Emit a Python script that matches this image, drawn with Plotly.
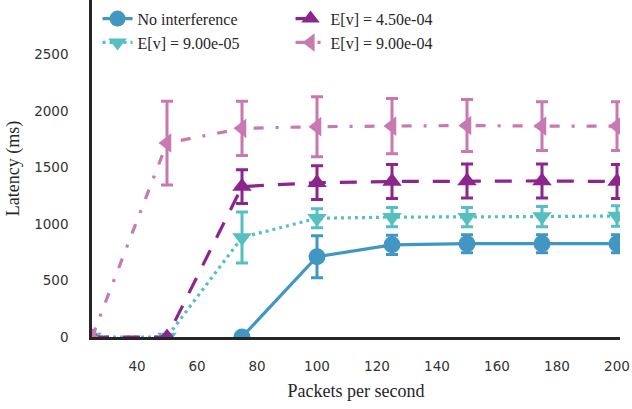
import plotly.graph_objects as go

# Data
x_none = [75, 100, 125, 150, 175, 200]
y_none = [0, 710, 815, 825, 825, 825]
e_none = [0, 185, 85, 80, 80, 80]

x_lo = [25, 50, 75, 100, 125, 150, 175, 200]
y_lo = [0, 0, 880, 1050, 1060, 1060, 1065, 1070]
e_lo = [0, 0, 225, 85, 85, 85, 90, 90]

x_mid = [25, 50, 75, 100, 125, 150, 175, 200]
y_mid = [0, 0, 1330, 1365, 1375, 1380, 1380, 1375]
e_mid = [0, 0, 150, 150, 150, 150, 150, 150]

x_hi = [25, 50, 75, 100, 125, 150, 175, 200]
y_hi = [0, 1715, 1845, 1860, 1865, 1870, 1865, 1865]
e_hi = [0, 370, 240, 265, 245, 230, 215, 215]

names = ["No interference", "E[v] = 9.00e-05", "E[v] = 4.50e-04", "E[v] = 9.00e-04"]
colors = ["#4197c1", "#55bfc1", "#8c268d", "#c879b2"]
dashes = ["solid", "3px,4px", "17px,14px", "10px,12px,3px,12px"]
symbols = ["circle", "triangle-down", "triangle-up", "triangle-left"]
sizes = [17, 17, 17, 17]
ranks = [1, 3, 2, 4]

series = [(x_none, y_none, e_none), (x_lo, y_lo, e_lo), (x_mid, y_mid, e_mid), (x_hi, y_hi, e_hi)]

fig = go.Figure()
for i, (xs, ys, es) in enumerate(series):
    fig.add_trace(go.Scatter(
        x=xs, y=ys, name=names[i], mode="lines+markers",
        line=dict(color=colors[i], width=3.2, dash=dashes[i]),
        marker=dict(symbol=symbols[i], size=sizes[i], color=colors[i]),
        error_y=dict(type="data", array=es, visible=True, color=colors[i], thickness=3, width=6),
        legendrank=ranks[i],
    ))

serif = "Liberation Serif"
fig.update_layout(
    width=632, height=409,
    margin=dict(l=92, r=12, t=0, b=72),
    plot_bgcolor="white", paper_bgcolor="white",
    showlegend=True,
    legend=dict(orientation="h", x=0.0105, y=0.995, xanchor="left", yanchor="top",
                font=dict(family=serif, size=16, color="#262626"),
                entrywidth=148, entrywidthmode="pixels",
                bgcolor="rgba(255,255,255,0)", tracegroupgap=0),
    xaxis=dict(range=[25, 201], tickvals=[40, 60, 80, 100, 120, 140, 160, 180, 200],
               showgrid=False, zeroline=False, showline=True, linecolor="#262626", linewidth=2.5,
               ticks="", ticklabelstandoff=15, automargin=False,
               tickfont=dict(family="DejaVu Sans", size=13.5, color="#333333"),
               title=dict(text="Packets per second", font=dict(family=serif, size=18, color="#262626"), standoff=12)),
    yaxis=dict(range=[0, 2980], tickvals=[0, 500, 1000, 1500, 2000, 2500],
               showgrid=False, zeroline=False, showline=True, linecolor="#262626", linewidth=2.5,
               ticks="", ticklabelstandoff=18, automargin=False,
               tickfont=dict(family="DejaVu Sans", size=13.5, color="#333333"),
               title=dict(text="Latency (ms)", font=dict(family=serif, size=18, color="#262626"), standoff=10)),
)
fig.write_html("out.html", config={"displayModeBar": False},
               post_script="document.body.style.margin='0';document.body.style.overflow='hidden';")
